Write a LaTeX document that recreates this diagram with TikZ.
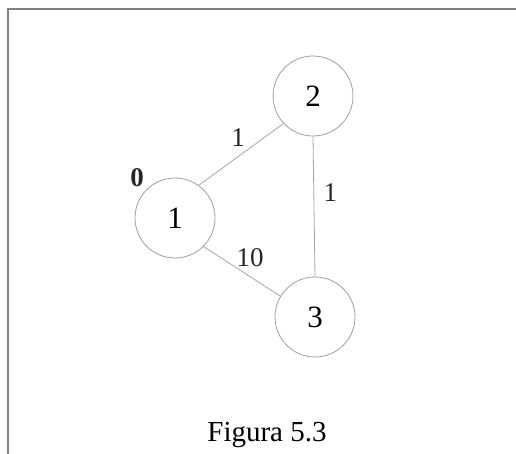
\documentclass[tikz,border=0pt]{standalone}
\usepackage{fontspec}
\setmainfont{Liberation Serif}
\usepackage{tikz}

\tikzset{
    vertex/.style={
        circle,
        draw=gray!75,
        line width=0.8pt,
        inner sep=0pt,
        minimum size=80pt,
        font=\fontsize{31}{32}\selectfont
    },
    aresta/.style={
        gray!70,
        line width=0.8pt
    },
    pes/.style={
        text=black!85,
        font=\fontsize{27}{28}\selectfont
    }
}

\begin{document}
\begin{tikzpicture}[x=1pt, y=-1pt]

\useasboundingbox (0,0) rectangle (516,454);

% ---------------- MARC ----------------

\draw[
    gray,
    line width=1.2pt
] (8,454) -- (8,9) -- (516,9);

% ---------------- VERTEXS ----------------

\node[vertex] (n1) at (175,218) {1};
\node[vertex] (n2) at (313,96) {2};
\node[vertex] (n3) at (315,317) {3};

% Distancia inicial
\node[
    pes,
    font=\bfseries\fontsize{27}{28}\selectfont
] (d1) at (137,178) {0};

% ---------------- ARESTES ----------------

\draw[aresta] (n1.54) -- (n2.223)
    node[pes, pos=0.5, above=4pt, xshift=-3pt] (w12) {1};

\draw[aresta] (n2.south) -- (n3.north)
    node[pes, midway, right=6pt, yshift=14pt] (w23) {1};

\draw[aresta] (n1.-45) -- (n3.149)
    node[pes, pos=0.5, above right=-3pt, xshift=-6pt, yshift=4pt] (w13) {10};

% Peu
\node[
    font=\fontsize{29}{30}\selectfont
] (peu) at (267,435) {Figura 5.3};

\end{tikzpicture}
\end{document}
